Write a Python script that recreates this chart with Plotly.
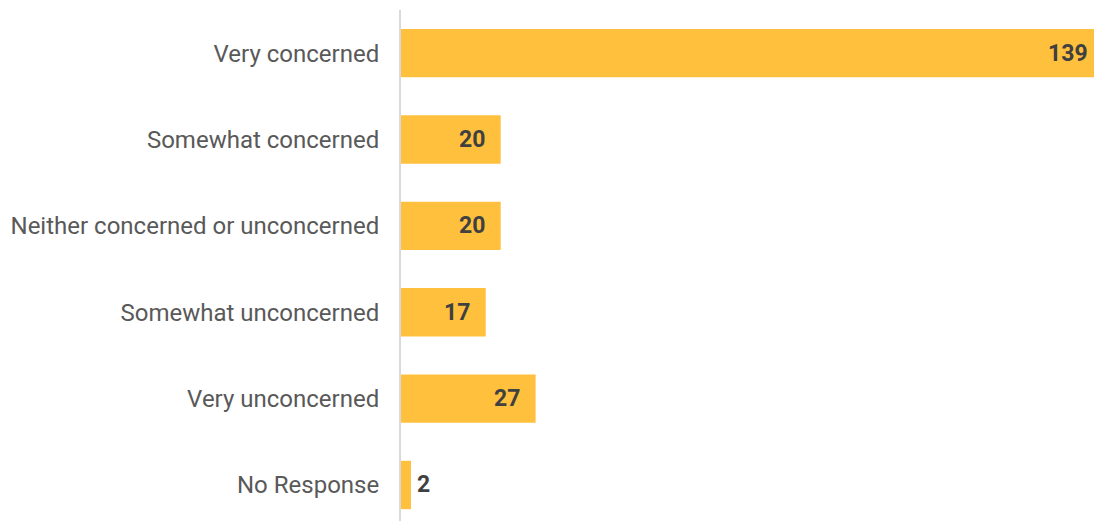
import plotly.graph_objects as go

categories = ["Very concerned", "Somewhat concerned", "Neither concerned or unconcerned",
              "Somewhat unconcerned", "Very unconcerned", "No Response"]
values = [139, 20, 20, 17, 27, 2]

fig = go.Figure(go.Bar(
    x=values, y=categories, orientation="h",
    marker=dict(color="#FFC13D", line=dict(width=0)),
    hoverinfo="x+y",
))

# value labels placed at the bar ends through the axis scales
for cat, v in zip(categories, values):
    if v < 5:
        anchor, shift = "left", 4
    elif v == max(values):
        anchor, shift = "right", -4
    else:
        anchor, shift = "right", -14
    fig.add_annotation(
        x=v, y=cat, xref="x", yref="y", text=str(v), showarrow=False,
        xanchor=anchor, xshift=shift, yanchor="middle",
        font=dict(family="Roboto", size=23, color="#404040", weight="bold"),
    )

fig.update_layout(
    width=1094, height=521,
    margin=dict(l=401, r=0, t=10, b=0, autoexpand=False),
    paper_bgcolor="white", plot_bgcolor="white",
    bargap=0.44,
    showlegend=False,
    font=dict(family="Roboto"),
)
fig.update_xaxes(range=[0, 139], visible=False, showgrid=False, zeroline=False)
fig.update_yaxes(
    categoryorder="array", categoryarray=categories,
    range=[5.417, -0.5],
    showline=True, linecolor="#D9D9D9", linewidth=2,
    ticks="", ticklabelstandoff=15,
    tickfont=dict(family="Roboto", size=24, color="#595959"),
    showgrid=False, zeroline=False,
)

fig.write_html(
    "out.html",
    config={"displayModeBar": False},
    post_script="document.body.style.margin='0';document.body.style.overflow='hidden';",
)
